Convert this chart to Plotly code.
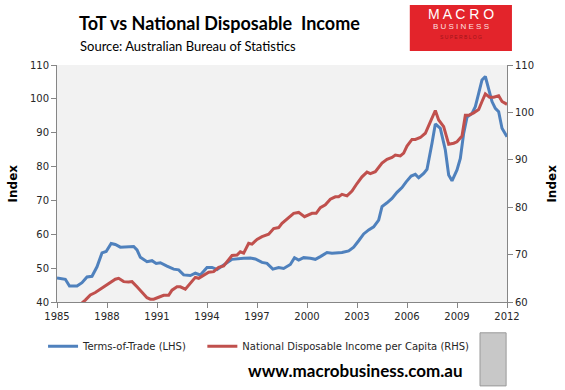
import plotly.graph_objects as go

# Terms-of-Trade (LHS)
tot_years = [1985.0, 1985.5, 1985.75, 1986.2, 1986.5, 1986.8, 1987.1, 1987.4, 1987.7, 1987.95,
             1988.25, 1988.5, 1988.8, 1989.4, 1989.6, 1989.8, 1990.0, 1990.4, 1990.7, 1990.95,
             1991.2, 1991.6, 1992.0, 1992.3, 1992.6, 1993.0, 1993.3, 1993.6, 1994.0, 1994.3,
             1994.6, 1995.0, 1995.5, 1996.2, 1996.6, 1996.9, 1997.3, 1997.6, 1997.95, 1998.3,
             1998.6, 1999.0, 1999.25, 1999.5, 1999.8, 2000.2, 2000.5, 2000.8, 2001.2, 2001.5,
             2001.8, 2002.1, 2002.5, 2002.8, 2003.1, 2003.4, 2003.7, 2004.0, 2004.3, 2004.5,
             2004.8, 2005.1, 2005.4, 2005.7, 2005.95, 2006.25, 2006.5, 2006.7, 2007.0, 2007.2,
             2007.5, 2007.7, 2008.0, 2008.3, 2008.5, 2008.7, 2009.0, 2009.2, 2009.4, 2009.6,
             2009.9, 2010.1, 2010.3, 2010.5, 2010.7, 2010.9, 2011.1, 2011.3, 2011.5, 2011.7, 2012.0]
tot_values = [47.1, 46.7, 44.7, 44.7, 45.7, 47.4, 47.6, 50.4, 54.5, 54.9,
              57.3, 57.0, 56.2, 56.2, 56.4, 55.4, 53.2, 51.9, 52.2, 51.4,
              51.6, 50.6, 49.7, 49.5, 48.0, 47.8, 48.5, 48.0, 50.2, 50.2,
              49.6, 50.9, 52.6, 52.9, 53.0, 52.7, 51.7, 51.4, 49.7, 50.2,
              49.9, 51.1, 53.1, 52.4, 53.1, 52.9, 52.6, 53.4, 54.6, 54.4,
              54.4, 54.6, 55.1, 56.2, 58.1, 60.1, 61.3, 62.2, 64.2, 68.2,
              69.3, 70.6, 72.4, 73.8, 75.5, 77.2, 77.7, 76.7, 78.0, 79.2,
              86.9, 92.6, 91.3, 84.9, 77.5, 75.8, 79.0, 82.4, 89.8, 94.6,
              95.7, 97.7, 101.6, 105.6, 106.6, 102.6, 99.2, 97.2, 96.2, 91.3, 88.8]

# National Disposable Income per Capita (RHS)
ndi_years = [1986.0, 1986.5, 1986.7, 1987.0, 1987.3, 1987.6, 1987.9, 1988.2, 1988.5, 1988.7,
             1989.0, 1989.3, 1989.5, 1989.8, 1990.1, 1990.4, 1990.6, 1990.8, 1991.1, 1991.4,
             1991.7, 1991.9, 1992.2, 1992.4, 1992.7, 1993.0, 1993.3, 1993.5, 1993.8, 1994.1,
             1994.4, 1994.7, 1995.0, 1995.3, 1995.5, 1995.8, 1996.0, 1996.2, 1996.5, 1996.7,
             1997.0, 1997.3, 1997.7, 1998.0, 1998.3, 1998.5, 1998.9, 1999.2, 1999.5, 1999.85,
             2000.3, 2000.55, 2000.8, 2001.1, 2001.4, 2001.7, 2001.9, 2002.1, 2002.4, 2002.7,
             2003.0, 2003.3, 2003.6, 2003.8, 2004.1, 2004.5, 2004.8, 2005.1, 2005.3, 2005.6,
             2005.8, 2006.0, 2006.3, 2006.5, 2006.8, 2007.1, 2007.4, 2007.7, 2007.9, 2008.2,
             2008.5, 2008.8, 2009.0, 2009.3, 2009.5, 2009.7, 2010.0, 2010.3, 2010.5, 2010.7,
             2010.95, 2011.2, 2011.5, 2011.7, 2012.0]
ndi_values = [58.8, 59.8, 60.4, 61.5, 62.0, 62.7, 63.4, 64.2, 64.8, 65.0,
              64.3, 64.2, 64.3, 63.2, 62.0, 60.9, 60.6, 60.6, 61.0, 61.4,
              61.4, 62.5, 63.2, 63.2, 62.7, 63.9, 65.2, 65.0, 65.7, 66.3,
              66.4, 67.3, 67.6, 68.9, 69.8, 69.9, 70.6, 70.3, 72.4, 72.2,
              73.2, 73.8, 74.3, 75.5, 75.7, 76.6, 77.7, 78.7, 78.9, 78.0,
              78.7, 78.7, 79.9, 80.5, 81.7, 82.2, 82.2, 82.7, 82.4, 83.4,
              85.0, 86.4, 87.4, 87.1, 87.5, 89.3, 90.1, 90.5, 91.0, 90.8,
              91.4, 92.9, 94.3, 94.3, 94.7, 95.6, 98.0, 100.4, 98.4, 97.0,
              93.3, 93.5, 93.8, 95.0, 99.4, 99.4, 99.9, 100.6, 102.3, 103.9,
              103.2, 103.2, 103.5, 102.3, 101.7]

x_ticks = [1985, 1988, 1991, 1994, 1997, 2000, 2003, 2006, 2009, 2012]
lhs_ticks = [40, 50, 60, 70, 80, 90, 100, 110]
rhs_ticks = [60, 70, 80, 90, 100, 110]

BLUE = "#4f81bd"
RED = "#c0504d"
AX = "#868686"
TXT = "#262626"
FONT = "DejaVu Sans"

fig = go.Figure()
fig.add_trace(go.Scatter(x=tot_years, y=tot_values, mode="lines", name="Terms-of-Trade (LHS)",
                         line=dict(color=BLUE, width=3), legend="legend"))
fig.add_trace(go.Scatter(x=ndi_years, y=ndi_values, mode="lines",
                         name="National Disposable Income per Capita (RHS)",
                         line=dict(color=RED, width=3), yaxis="y2", legend="legend2"))

leg_common = dict(orientation="h", xanchor="left", y=-0.125, yanchor="top",
                  font=dict(family=FONT, size=10, color=TXT), bgcolor="rgba(0,0,0,0)")

fig.update_layout(
    width=565, height=390,
    margin=dict(l=57, r=58, t=65, b=88),
    paper_bgcolor="white", plot_bgcolor="#f2f2f2",
    font=dict(family=FONT, size=10, color=TXT),
    showlegend=True,
    legend=dict(x=-0.031, **leg_common),
    legend2=dict(x=0.323, **leg_common),
    xaxis=dict(range=[1985, 2012], tickvals=x_ticks, ticktext=[str(t) for t in x_ticks],
               showgrid=False, zeroline=False, showline=True, linecolor=AX, linewidth=1,
               ticks="outside", ticklen=5, tickcolor=AX, tickfont=dict(size=10, color=TXT)),
    yaxis=dict(range=[40, 110], tickvals=lhs_ticks, showgrid=False, zeroline=False,
               showline=True, linecolor=AX, linewidth=1, ticks="outside", ticklen=5,
               tickcolor=AX, tickfont=dict(size=10, color=TXT)),
    yaxis2=dict(range=[60, 110], tickvals=rhs_ticks, overlaying="y", side="right",
                showgrid=False, zeroline=False, showline=True, linecolor=AX, linewidth=1,
                ticks="outside", ticklen=5, tickcolor=AX, tickfont=dict(size=10, color=TXT)),
)

ann = [
    dict(text="<b>ToT vs National Disposable  Income</b>", x=0.044, y=1.177, xanchor="left",
         yanchor="middle", font=dict(family="Lato", size=18, color="black")),
    dict(text="Source: Australian Bureau of Statistics", x=0.046, y=1.08, xanchor="left",
         yanchor="middle", font=dict(family="Lato", size=13, color="black")),
    dict(text="<b>Index</b>", x=-0.098, y=0.5, textangle=-90, xanchor="center", yanchor="middle",
         font=dict(family=FONT, size=12, color="black")),
    dict(text="<b>Index</b>", x=1.098, y=0.5, textangle=-90, xanchor="center", yanchor="middle",
         font=dict(family=FONT, size=12, color="black")),
    dict(text="<b>www.macrobusiness.com.au</b>", x=0.664, y=-0.287, xanchor="center",
         yanchor="middle", font=dict(family="Lato", size=17, color="black")),
    dict(text="M A C R O", x=0.897, y=1.215, xanchor="center", yanchor="middle",
         font=dict(family="Liberation Sans", size=14, color="white")),
    dict(text="B U S I N E S S", x=0.897, y=1.163, xanchor="center", yanchor="middle",
         font=dict(family="Liberation Sans", size=8, color="#fde0e0")),
    dict(text="S U P E R B L O G", x=0.897, y=1.118, xanchor="center", yanchor="middle",
         font=dict(family="Liberation Sans", size=5, color="#a0141a")),
]
for a in ann:
    a.update(xref="paper", yref="paper", showarrow=False)
    fig.add_annotation(**a)

# logo box and wolf picture placeholder
fig.add_shape(type="rect", xref="paper", yref="paper", x0=0.784, x1=1.011, y0=1.059, y1=1.253,
              fillcolor="#e3242b", line=dict(width=0), layer="below")
fig.add_shape(type="rect", xref="paper", yref="paper", x0=0.94, x1=0.998, y0=-0.354, y1=-0.13,
              fillcolor="#c8c8c8", line=dict(color="#999999", width=1))

fig.write_html("out.html", config={"displayModeBar": False},
               post_script="document.body.style.margin='0px';")
